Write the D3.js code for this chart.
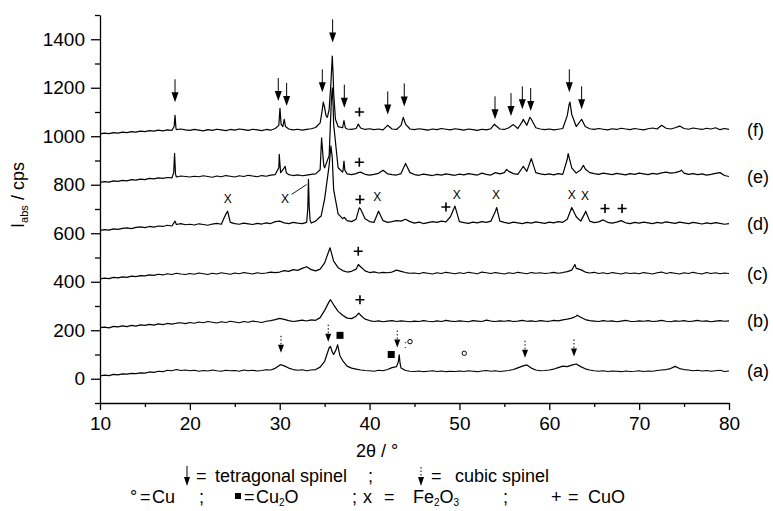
<!DOCTYPE html>
<html>
<head>
<meta charset="utf-8">
<script src="https://cdn.jsdelivr.net/npm/d3@7"></script>
<style>
body { margin: 0; background: #fff; }
text { font-family: "Liberation Sans", Arial, sans-serif; fill: #000; }
</style>
</head>
<body>
<div id="chart"></div>
<script>
// grille d'échantillonnage 2θ (10° -> 80°, pas de 0.5°)
const twoTheta = d3.range(141).map(i => 10 + i * 0.5);

// intensités (cps, déjà décalées)
const seriesA = [
  12, 15, 13, 18, 16, 20, 19, 22, 21, 24,
  23, 28, 26, 31, 29, 35, 33, 38, 34, 36,
  33, 35, 31, 34, 32, 36, 33, 31, 35, 33,
  34, 31, 36, 33, 35, 32, 34, 37, 36, 43,
  56, 53, 44, 38, 35, 37, 33, 36, 38, 48,
  72, 128, 100, 130, 75, 52, 44, 40, 36, 34,
  33, 31, 35, 33, 38, 46, 50, 44, 34, 31,
  30, 32, 29, 31, 33, 30, 32, 29, 31, 30,
  32, 30, 33, 31, 29, 32, 34, 31, 33, 30,
  32, 34, 38, 45, 52, 57, 44, 36, 33, 34,
  36, 40, 46, 52, 50, 56, 61, 50, 41, 36,
  33, 31, 33, 30, 32, 31, 29, 32, 30, 31,
  33, 30, 32, 31, 34, 36, 38, 42, 51, 42,
  38, 36, 33, 35, 32, 34, 31, 33, 35, 30,
  32
];
const peaksA = [[30.15, 58], [35.3, 105], [35.65, 133], [35.85, 110], [36.25, 118], [36.45, 140], [36.7, 95],
  [43.2, 70], [43.3, 99], [43.4, 62]];

const seriesB = [
  211, 213, 210, 216, 214, 218, 215, 220, 217, 222,
  220, 224, 221, 226, 223, 228, 225, 229, 231, 227,
  232, 229, 234, 231, 236, 233, 230, 235, 232, 237,
  234, 231, 236, 233, 238, 235, 232, 237, 240, 244,
  249, 245, 240, 236, 239, 242, 238, 243, 241, 252,
  282, 318, 305, 278, 262, 250, 248, 258, 262, 246,
  240, 236, 239, 235, 238, 240, 236, 239, 237, 235,
  238, 236, 240, 237, 235, 239, 236, 241, 238, 236,
  239, 237, 235, 240, 238, 236, 242, 238, 236, 239,
  237, 240, 236, 238, 241, 237, 239, 236, 240, 238,
  237, 241, 239, 243, 246, 250, 258, 254, 244, 240,
  238, 236, 240, 237, 239, 235, 238, 241, 237, 236,
  239, 237, 240, 236, 238, 241, 237, 235, 239, 237,
  240, 236, 238, 241, 237, 239, 235, 238, 240, 237,
  239
];
const peaksB = [[35.65, 326], [38.8, 271], [63.1, 262]];

const seriesC = [
  412, 415, 413, 418, 416, 420, 418, 423, 421, 425,
  424, 428, 426, 431, 428, 433, 430, 435, 432, 430,
  434, 431, 436, 433, 430, 435, 432, 437, 434, 431,
  436, 433, 438, 435, 432, 437, 434, 436, 440, 438,
  440, 446, 443, 450, 447, 455, 462, 450, 445, 452,
  478, 530, 485, 458, 446, 440, 443, 452, 462, 445,
  438, 441, 436, 439, 437, 440, 448, 443, 438, 435,
  436, 433, 438, 435, 432, 437, 434, 439, 436, 433,
  437, 434, 439, 436, 433, 440, 437, 434, 438, 435,
  432, 437, 434, 439, 436, 433, 438, 435, 437, 434,
  436, 439, 435, 438, 442, 448, 455, 450, 440, 436,
  439, 434, 437, 433, 438, 435, 432, 437, 434, 436,
  433, 438, 435, 432, 437, 440, 434, 438, 435, 432,
  437, 434, 439, 435, 432, 438, 434, 437, 433, 436,
  434
];
const peaksC = [[35.6, 540], [35.75, 520], [38.75, 471], [62.85, 471]];

const seriesD = [
  612, 615, 613, 618, 616, 620, 622, 619, 624, 626,
  623, 628, 625, 630, 628, 633, 630, 636, 640, 635,
  637, 634, 639, 636, 633, 638, 641, 637, 678, 645,
  640, 637, 642, 639, 636, 641, 638, 643, 640, 648,
  650, 643, 640, 645, 642, 640, 645, 642, 650, 668,
  742, 880, 780, 680, 660, 652, 648, 658, 700, 660,
  648, 645, 691, 652, 645, 648, 652, 650, 658, 648,
  642, 646, 640, 644, 648, 645, 650, 647, 668, 712,
  648, 644, 641, 646, 643, 648, 645, 650, 690, 650,
  645, 641, 646, 643, 640, 645, 642, 647, 644, 641,
  646, 643, 648, 645, 658, 706, 668, 650, 685, 650,
  644, 647, 655, 645, 642, 646, 652, 643, 640, 645,
  642, 646, 643, 640, 645, 642, 647, 644, 641, 646,
  643, 640, 645, 642, 638, 643, 640, 644, 641, 637,
  640
];
const peaksD = [[18.35, 650], [24.2, 691], [33.12, 700], [33.2, 822], [33.28, 710], [33.38, 655], [34.6, 670],
  [35.7, 960], [35.85, 910], [37.2, 665], [38.85, 705], [54.15, 706], [64.05, 691]];

const seriesE = [
  810, 813, 811, 816, 814, 818, 816, 821, 819, 823,
  821, 826, 824, 828, 826, 830, 828, 832, 836, 834,
  832, 835, 833, 837, 834, 831, 836, 833, 838, 835,
  832, 837, 834, 839, 836, 833, 838, 835, 840, 842,
  900, 870, 842, 838, 841, 837, 840, 843, 845, 862,
  870, 920, 1050, 870, 852, 845, 842, 846, 852, 843,
  840, 843, 847, 860, 845, 842, 840, 846, 888, 850,
  842, 839, 844, 841, 838, 843, 840, 845, 842, 839,
  844, 841, 846, 843, 840, 848, 843, 840, 850, 845,
  850, 855, 846, 843, 870, 855, 908, 850, 845, 842,
  845, 841, 846, 843, 905, 870, 848, 862, 865, 850,
  846, 843, 848, 845, 842, 847, 844, 841, 846, 843,
  848, 845, 842, 847, 844, 849, 852, 848, 850, 855,
  848, 843, 846, 842, 845, 840, 843, 847, 850, 838,
  834
];
const peaksE = [[18.2, 850], [18.3, 929], [18.4, 845], [29.9, 870], [29.95, 925], [30.1, 850], [30.6, 876], [30.75, 848],
  [34.66, 993], [34.75, 950], [34.9, 880], [35.75, 1150], [35.85, 1200], [35.95, 1120],
  [37.05, 860], [37.15, 898], [37.25, 860], [38.75, 850], [55.25, 863], [57.1, 876], [62.1, 928], [63.8, 880], [74.7, 860]];

const seriesF = [
  1010, 1013, 1011, 1015, 1013, 1017, 1015, 1019, 1017, 1021,
  1019, 1023, 1021, 1025, 1022, 1026, 1024, 1027, 1030, 1026,
  1024, 1028, 1025, 1022, 1027, 1024, 1029, 1026, 1023, 1028,
  1025, 1030, 1027, 1024, 1029, 1026, 1023, 1028, 1025, 1032,
  1100, 1070, 1030, 1026, 1029, 1025, 1028, 1031, 1036, 1055,
  1118, 1110, 1180, 1040, 1035, 1030, 1028, 1032, 1034, 1028,
  1031, 1027, 1030, 1026, 1045, 1030, 1028, 1045, 1050, 1030,
  1027, 1031, 1028, 1025, 1030, 1027, 1032, 1029, 1026, 1031,
  1028, 1025, 1030, 1027, 1024, 1029, 1026, 1031, 1045, 1030,
  1028, 1035, 1048, 1032, 1060, 1045, 1070, 1035, 1030, 1027,
  1030, 1026, 1029, 1032, 1085, 1090, 1040, 1065, 1040, 1031,
  1028, 1032, 1029, 1026, 1031, 1028, 1033, 1030, 1027, 1032,
  1029, 1026, 1031, 1034, 1030, 1045, 1033, 1030, 1035, 1042,
  1032, 1029, 1034, 1031, 1028, 1033, 1030, 1035, 1027, 1032,
  1028
];
const peaksF = [[18.25, 1040], [18.35, 1086], [18.45, 1035], [29.9, 1045], [30.03, 1115], [30.15, 1050], [30.35, 1040], [30.65, 1040],
  [34.7, 1100], [34.85, 1141], [35.15, 1085], [35.3, 1078], [35.7, 1220], [35.85, 1331], [35.95, 1250], [36.2, 1070],
  [37.15, 1065], [37.3, 1035], [38.75, 1050], [43.75, 1078], [53.9, 1050], [57.1, 1070], [57.85, 1078],
  [62.2, 1130], [62.3, 1141], [63.6, 1070]];

const seriesLabels = ["(a)", "(b)", "(c)", "(d)", "(e)", "(f)"];
const seriesValues = [seriesA, seriesB, seriesC, seriesD, seriesE, seriesF];
const seriesPeaks = [peaksA, peaksB, peaksC, peaksD, peaksE, peaksF];

// annotations [2θ, cps]
const tetragonal = [[18.35, 1140], [29.84, 1145], [30.77, 1125], [34.74, 1181], [35.89, 1387], [37.19, 1118],
  [42.02, 1090], [43.86, 1123], [53.96, 1070], [55.74, 1083], [57.0, 1111], [57.93, 1104], [62.23, 1181], [63.6, 1111]];
const cubic = [[30.14, 107], [35.4, 153], [43.08, 129], [57.3, 87], [62.75, 92]];
const cu2o = [[36.71, 179], [42.41, 100]];
const cu = [[44.5, 153], [50.54, 105]];
const cuo = [[38.87, 1100], [38.86, 893], [38.93, 739], [48.5, 708], [66.2, 702], [68.1, 702], [38.74, 526], [38.93, 326]];
const fe2o3 = [[24.21, 743], [30.59, 743], [40.85, 749], [49.69, 760], [54.07, 760], [62.49, 760], [63.97, 753]];
const fe2o3Leader = [[31.32, 760], [32.99, 801]];

const xMajor = [10, 20, 30, 40, 50, 60, 70, 80];
const xMinor = [15, 25, 35, 45, 55, 65, 75];
const yMajor = [0, 200, 400, 600, 800, 1000, 1200, 1400];
const yMinor = [-100, 100, 300, 500, 700, 900, 1100, 1300, 1500];

const W = 773, H = 511;
const svg = d3.select("#chart").append("svg").attr("width", W).attr("height", H);

const x = d3.scaleLinear().domain([10, 80]).range([100, 729]);
const y = d3.scaleLinear().domain([-100, 1500]).range([403, 15]);

// axes
svg.append("g").attr("transform", "translate(0,403)")
  .call(d3.axisBottom(x).tickValues(xMinor).tickSize(4).tickFormat(""))
  .call(g => g.select(".domain").remove());
svg.append("g").attr("transform", "translate(0,403)")
  .call(d3.axisBottom(x).tickValues(xMajor).tickSize(7).tickSizeOuter(0).tickPadding(7).tickFormat(d3.format("d")));
svg.append("g").attr("transform", "translate(100,0)")
  .call(d3.axisLeft(y).tickValues(yMinor).tickSize(5).tickFormat(""))
  .call(g => g.select(".domain").remove());
svg.append("g").attr("transform", "translate(100,0)")
  .call(d3.axisLeft(y).tickValues(yMajor).tickSize(9).tickSizeOuter(0).tickPadding(6).tickFormat(d3.format("d")));
svg.selectAll(".tick line, .domain").attr("stroke", "#000").attr("stroke-width", 1.3);
svg.selectAll(".tick text").attr("font-size", 19).attr("font-family", "Liberation Sans, Arial, sans-serif");

// titres des axes
svg.append("text").attr("x", 377).attr("y", 457).attr("text-anchor", "middle").attr("font-size", 18).text("2θ / °");
const yl = svg.append("text").attr("transform", "translate(24,195) rotate(-90)").attr("text-anchor", "middle").attr("font-size", 18);
yl.append("tspan").text("I");
yl.append("tspan").attr("font-size", 11).attr("dy", 4).text("abs");
yl.append("tspan").attr("dy", -4).text(" / cps");

// diffractogrammes
const line = d3.line().x(d => x(d[0])).y(d => y(d[1]));
seriesValues.forEach((vals, i) => {
  const pts = twoTheta.map((t, j) => [t, vals[j]]).concat(seriesPeaks[i]).sort((a, b) => a[0] - b[0]);
  svg.append("path").datum(pts).attr("d", line)
    .attr("fill", "none").attr("stroke", "#000").attr("stroke-width", 1.2).attr("stroke-linejoin", "round");
  svg.append("text").attr("x", x(80) + 18).attr("y", y(vals[vals.length - 1])).attr("dy", "0.35em")
    .attr("font-size", 18).text(seriesLabels[i]);
});

// flèches spinelle tétragonal
const ann = svg.append("g");
tetragonal.forEach(d => {
  const px = x(d[0]), py = y(d[1]);
  ann.append("line").attr("x1", px).attr("x2", px).attr("y1", py - 23).attr("y2", py - 8).attr("stroke", "#000").attr("stroke-width", 1);
  ann.append("path").attr("d", `M${px - 3.5},${py - 10}L${px + 3.5},${py - 10}L${px},${py}Z`).attr("fill", "#000");
});
// flèches spinelle cubique (pointillées)
cubic.forEach(d => {
  const px = x(d[0]), py = y(d[1]);
  ann.append("line").attr("x1", px).attr("x2", px).attr("y1", py - 17).attr("y2", py - 8)
    .attr("stroke", "#000").attr("stroke-width", 1).attr("stroke-dasharray", "1.5,2");
  ann.append("path").attr("d", `M${px - 3},${py - 8}L${px + 3},${py - 8}L${px},${py}Z`).attr("fill", "#000");
});
cu2o.forEach(d => {
  ann.append("rect").attr("x", x(d[0]) - 3.5).attr("y", y(d[1]) - 3.5).attr("width", 7).attr("height", 7).attr("fill", "#000");
});
cu.forEach(d => {
  ann.append("circle").attr("cx", x(d[0])).attr("cy", y(d[1])).attr("r", 2.2).attr("fill", "none").attr("stroke", "#000").attr("stroke-width", 1);
});
ann.append("text").attr("x", x(cu[0][0]) - 6).attr("y", y(cu[0][1]) + 6).attr("font-size", 10).text(":");
cuo.forEach(d => {
  const px = x(d[0]), py = y(d[1]);
  ann.append("path").attr("d", `M${px - 4.5},${py}H${px + 4.5}M${px},${py - 4.5}V${py + 4.5}`).attr("stroke", "#000").attr("stroke-width", 1.6);
});
fe2o3.forEach(d => {
  ann.append("text").attr("x", x(d[0])).attr("y", y(d[1])).attr("dy", "0.36em").attr("text-anchor", "middle").attr("font-size", 12).text("X");
});
ann.append("line").attr("x1", x(fe2o3Leader[0][0])).attr("y1", y(fe2o3Leader[0][1]))
  .attr("x2", x(fe2o3Leader[1][0])).attr("y2", y(fe2o3Leader[1][1])).attr("stroke", "#000").attr("stroke-width", 0.9);

// légende
const lg = svg.append("g").attr("font-size", 18);
lg.append("line").attr("x1", 187).attr("x2", 187).attr("y1", 466).attr("y2", 478).attr("stroke", "#000");
lg.append("path").attr("d", "M184,477L190,477L187,486Z").attr("fill", "#000");
lg.append("text").attr("x", 196).attr("y", 482).text("=");
lg.append("text").attr("x", 215).attr("y", 482).text("tetragonal spinel");
lg.append("text").attr("x", 368).attr("y", 482).text(";");
lg.append("line").attr("x1", 421).attr("x2", 421).attr("y1", 467).attr("y2", 477).attr("stroke", "#000").attr("stroke-dasharray", "1.5,2");
lg.append("path").attr("d", "M418,477L424,477L421,486Z").attr("fill", "#000");
lg.append("text").attr("x", 431).attr("y", 482).text("=");
lg.append("text").attr("x", 455).attr("y", 482).text("cubic spinel");

lg.append("text").attr("x", 130).attr("y", 503).text("°");
lg.append("text").attr("x", 140).attr("y", 503).text("=");
lg.append("text").attr("x", 152).attr("y", 503).text("Cu");
lg.append("text").attr("x", 199).attr("y", 503).text(";");
lg.append("rect").attr("x", 235).attr("y", 493).attr("width", 6).attr("height", 6).attr("fill", "#000");
lg.append("text").attr("x", 244).attr("y", 503).text("=");
const t1 = lg.append("text").attr("x", 256).attr("y", 503);
t1.append("tspan").text("Cu");
t1.append("tspan").attr("font-size", 10).attr("dy", 3).text("2");
t1.append("tspan").attr("dy", -3).text("O");
lg.append("text").attr("x", 352).attr("y", 503).text(";");
lg.append("text").attr("x", 363).attr("y", 503).text("x");
lg.append("text").attr("x", 384).attr("y", 503).text("=");
const t2 = lg.append("text").attr("x", 413).attr("y", 503);
t2.append("tspan").text("Fe");
t2.append("tspan").attr("font-size", 10).attr("dy", 3).text("2");
t2.append("tspan").attr("dy", -3).text("O");
t2.append("tspan").attr("font-size", 10).attr("dy", 3).text("3");
lg.append("text").attr("x", 503).attr("y", 503).text(";");
lg.append("text").attr("x", 551).attr("y", 503).text("+");
lg.append("text").attr("x", 568).attr("y", 503).text("=");
lg.append("text").attr("x", 588).attr("y", 503).text("CuO");
</script>
</body>
</html>
